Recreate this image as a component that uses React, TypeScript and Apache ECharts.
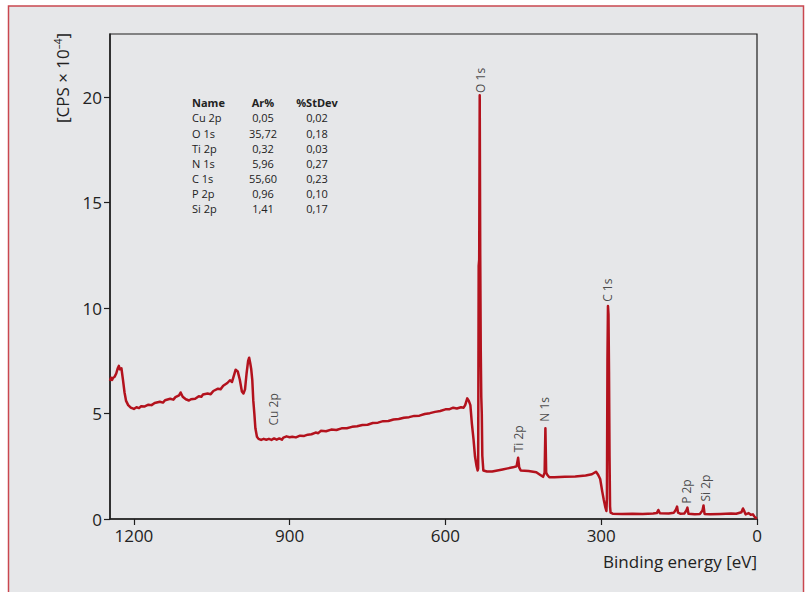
import React, { useEffect, useRef } from "react";
import * as echarts from "echarts";

// Spectrum: [binding energy eV, CPS x 10^-4]
const spectrum: [number, number][] = [
  [1246, 6.55], [1244, 6.7], [1242, 6.6], [1240, 6.7], [1237, 6.75], [1234, 6.9], [1231, 7.15],
  [1229, 7.26], [1227, 7.1], [1224, 7.15], [1221, 6.6], [1218, 6.0], [1215, 5.6],
  [1211, 5.4], [1206, 5.28], [1200, 5.22], [1195, 5.3], [1190, 5.26], [1186, 5.35], [1180, 5.33],
  [1172, 5.42], [1166, 5.4], [1160, 5.5], [1150, 5.56], [1144, 5.52], [1140, 5.63], [1130, 5.7], [1124, 5.66], [1120, 5.78],
  [1113, 5.86], [1110, 6.0], [1106, 5.8], [1100, 5.68], [1094, 5.62], [1090, 5.68], [1082, 5.7],
  [1075, 5.82], [1070, 5.8], [1067, 5.9], [1058, 5.95], [1052, 5.92], [1047, 6.07], [1038, 6.18], [1033, 6.15], [1028, 6.32],
  [1020, 6.45], [1015, 6.58], [1011, 6.5], [1008, 6.75], [1004, 7.08], [1000, 7.0],
  [996, 6.6], [992, 6.05], [989, 5.95], [986, 6.15], [983, 6.9], [980, 7.5],
  [978, 7.65], [976, 7.4], [974, 7.1], [972, 6.6], [970, 5.6], [968, 5.0],
  [966, 4.3], [963, 3.9], [960, 3.8], [955, 3.75], [950, 3.8], [945, 3.76], [940, 3.8], [935, 3.75], [930, 3.82],
  [925, 3.76], [920, 3.82], [915, 3.76], [912, 3.86], [906, 3.92], [900, 3.88], [895, 3.9], [888, 3.87], [880, 3.95], [872, 3.94], [865, 4.0],
  [858, 4.02], [850, 4.1], [845, 4.07], [840, 4.18], [830, 4.16], [820, 4.24], [810, 4.22], [800, 4.3], [790, 4.3], [780, 4.37], [770, 4.4], [760, 4.46],
  [750, 4.47], [740, 4.55], [730, 4.57], [720, 4.64], [710, 4.65], [700, 4.72], [690, 4.74], [680, 4.8], [670, 4.83], [660, 4.89], [650, 4.9], [640, 4.98],
  [630, 5.02], [620, 5.08], [610, 5.12], [600, 5.2], [593, 5.2], [585, 5.28], [578, 5.24], [570, 5.3], [565, 5.28], [562, 5.4], [558, 5.72],
  [555, 5.6], [552, 5.4], [549, 4.5], [546, 3.8], [543, 2.95], [540, 2.5],
  [538, 2.3], [537, 2.4], [536, 12.0], [535, 12.3], [534, 20.1], [533, 12.5],
  [532, 8.0], [531, 5.8], [530, 5.0], [529, 3.0], [527, 2.3], [520, 2.25],
  [510, 2.25], [500, 2.3], [490, 2.35], [480, 2.4], [470, 2.45], [463, 2.5],
  [460, 2.9], [458, 2.45], [455, 2.3], [440, 2.28], [425, 2.22], [418, 2.1],
  [412, 2.0], [409, 2.2], [407.5, 4.3], [406, 2.2], [404, 2.1], [400, 1.98],
  [390, 1.98], [370, 2.0], [350, 2.02], [330, 2.06], [318, 2.12], [310, 2.24],
  [306, 2.1], [302, 1.9], [298, 1.3], [295, 0.9], [292, 0.55], [290, 0.38],
  [289, 1.0], [288, 7.5], [287, 10.1], [286, 9.7], [285, 7.0], [284, 3.0],
  [283, 0.6], [282, 0.3], [278, 0.25], [260, 0.24], [240, 0.25], [220, 0.24],
  [200, 0.26], [193, 0.28], [190, 0.43], [187, 0.27], [170, 0.26], [160, 0.3],
  [156, 0.45], [154, 0.59], [152, 0.3], [148, 0.25], [140, 0.26], [136, 0.4],
  [134, 0.54], [132, 0.25], [120, 0.22], [110, 0.24], [105, 0.4], [103, 0.64],
  [101, 0.24], [90, 0.23], [70, 0.24], [50, 0.26], [40, 0.25], [30, 0.32],
  [27, 0.5], [25, 0.4], [22, 0.22], [16, 0.28], [12, 0.2], [8, 0.22],
  [5, 0.12], [3, 0.06], [0, 0.03],
];

// Peak annotations
const peakNames = ["O 1s", "C 1s", "N 1s", "Ti 2p", "Cu 2p", "P 2p", "Si 2p"];
const peakEnergies = [531.8, 287, 408.5, 459.5, 930.6, 135.8, 98.3];
const peakLabelLevels = [20.8, 10.85, 5.2, 3.8, 5.2, 1.3, 1.47];

const energyTicks = [0, 300, 600, 900, 1200];
const cpsTicks = [0, 5, 10, 15, 20];

// Quantification table
const tableHeader = ["Name", "Ar%", "%StDev"];
const tableNames = ["Cu 2p", "O 1s", "Ti 2p", "N 1s", "C 1s", "P 2p", "Si 2p"];
const tableAr = ["0,05", "35,72", "0,32", "5,96", "55,60", "0,96", "1,41"];
const tableStDev = ["0,02", "0,18", "0,03", "0,27", "0,23", "0,10", "0,17"];

const FONT = "'Open Sans', 'Noto Sans', sans-serif";
const TEXT = "#222222";
const AXIS = "#1e1e1e";
const LINE = "#b3121d";

export default function App() {
  const ref = useRef<HTMLDivElement>(null);

  useEffect(() => {
    if (!ref.current) return;
    const chart = echarts.init(ref.current, undefined, { renderer: "svg" });

    const colX = [192, 263, 317];
    const rowY0 = 102.7;
    const rowH = 15.15;
    const tableGraphics: any[] = [];
    const columns = [tableNames, tableAr, tableStDev];
    columns.forEach((col, i) => {
      [tableHeader[i], ...col].forEach((t, r) => {
        tableGraphics.push({
          type: "text",
          x: colX[i],
          y: rowY0 + r * rowH,
          style: {
            text: t,
            fill: TEXT,
            font: `${r === 0 ? "bold " : ""}11px ${FONT}`,
            align: i === 0 ? "left" : "center",
            verticalAlign: "middle",
          },
        });
      });
    });

    chart.setOption({
      animation: false,
      grid: {
        left: 110,
        top: 34,
        right: 53,
        bottom: 73,
        show: true,
        backgroundColor: "transparent",
        borderColor: AXIS,
        borderWidth: 1.2,
      },
      xAxis: {
        type: "value",
        min: 0,
        max: 1246,
        inverse: true,
        axisLine: { show: true, onZero: false, lineStyle: { color: AXIS, width: 1.5 } },
        axisTick: {
          show: true,
          length: 6,
          customValues: energyTicks,
          lineStyle: { color: AXIS, width: 1.2 },
        },
        axisLabel: {
          customValues: energyTicks,
          formatter: (v: number) => String(v),
          fontSize: 17,
          fontFamily: FONT,
          color: TEXT,
          margin: 8,
        },
        splitLine: { show: false },
      },
      yAxis: {
        type: "value",
        min: 0,
        max: 23,
        axisLine: { show: true, onZero: false, lineStyle: { color: AXIS, width: 1.5 } },
        axisTick: {
          show: true,
          length: 6,
          customValues: cpsTicks,
          lineStyle: { color: AXIS, width: 1.2 },
        },
        axisLabel: {
          customValues: cpsTicks,
          formatter: (v: number) => String(v),
          fontSize: 17,
          fontFamily: FONT,
          color: TEXT,
          margin: 8,
        },
        splitLine: { show: false },
      },
      series: [
        {
          type: "line",
          data: spectrum,
          showSymbol: false,
          symbol: "none",
          lineStyle: { color: LINE, width: 2.5, join: "round" },
          silent: true,
          z: 2,
        },
        {
          type: "scatter",
          symbolSize: 0,
          silent: true,
          z: 3,
          data: peakNames.map((n, i) => ({
            name: n,
            value: [peakEnergies[i], peakLabelLevels[i]],
          })),
          label: {
            show: true,
            formatter: "{b}",
            rotate: 90,
            position: "inside",
            fontSize: 12,
            fontFamily: FONT,
            color: TEXT,
          },
        },
      ],
      graphic: [
        {
          type: "rect",
          z: -10,
          shape: { x: 8.5, y: 6, width: 795, height: 640 },
          style: { fill: "#e6e7e9", stroke: "#c9474f", lineWidth: 1.5 },
        },
        {
          type: "text",
          x: 62,
          y: 78,
          rotation: Math.PI / 2,
          style: {
            text: "{a|[CPS × 10}{s|–4}{a|]}",
            align: "center",
            verticalAlign: "middle",
            rich: {
              a: { fontSize: 17, fontFamily: FONT, fill: TEXT, color: TEXT },
              s: {
                fontSize: 10,
                fontFamily: FONT,
                fill: TEXT,
                color: TEXT,
                verticalAlign: "top",
                padding: [0, 0, 8, 0],
              },
            },
          },
        },
        {
          type: "text",
          x: 757,
          y: 561,
          style: {
            text: "Binding energy [eV]",
            fill: TEXT,
            font: `17px ${FONT}`,
            align: "right",
            verticalAlign: "middle",
          },
        },
        ...tableGraphics,
      ],
    });

    return () => chart.dispose();
  }, []);

  return (
    <div
      ref={ref}
      style={{
        position: "fixed",
        left: 0,
        top: 0,
        width: 810,
        height: 592,
        background: "#ffffff",
      }}
    />
  );
}
